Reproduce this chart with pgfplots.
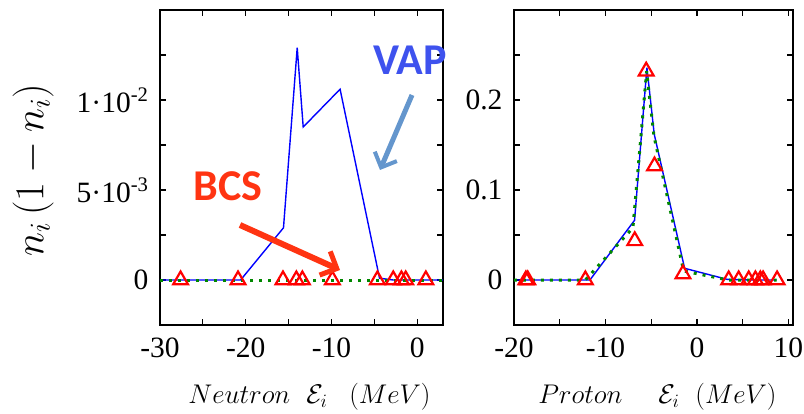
\RequirePackage{fix-cm}
\documentclass[border=0pt]{standalone}
\usepackage[no-math]{fontspec}
\setmainfont{Liberation Serif}
\newfontfamily\calibri{Carlito}
\usepackage{pgfplots}
\pgfplotsset{compat=1.18}
\usetikzlibrary{arrows.meta}

\definecolor{vapblue}{RGB}{62,82,238}
\definecolor{bcsred}{RGB}{255,52,18}
\definecolor{arrowblue}{RGB}{100,150,205}
\definecolor{dotgreen}{RGB}{0,135,0}

% particle label, energy symbol, unit; #2 and #3 are the gaps
\newcommand\elabel[3]{$#1\hspace{#2}\mathcal{E}_i\hspace{#3}(MeV)$}

\pgfplotsset{
  panel/.style={
    scale only axis, anchor=south west,
    height=315bp,
    axis line style={line width=1.3bp},
    every tick/.style={black, line width=1.1bp},
    major tick length=6bp, minor tick length=6bp,
    tick label style={font=\fontsize{29.5bp}{32bp}\selectfont},
    xticklabel style={yshift=-9bp},
    yticklabel style={xshift=-8bp},
    xlabel style={anchor=base, font=\fontsize{27bp}{31bp}\selectfont},
    scaled ticks=false,
    clip=true,
  },
  vap/.style={blue, line width=1.4bp, no marks},
  bcsline/.style={dotgreen, line width=3bp, dash pattern=on 3bp off 6bp, no marks},
  bcsmark/.style={only marks, mark=triangle, mark size=8.5bp, red, mark options={line width=2.2bp}},
}

\begin{document}
\begin{tikzpicture}
\useasboundingbox (-160bp,-89bp) rectangle (644bp,325bp);

% neutrons
\begin{axis}[panel, at={(0bp,0bp)}, width=283bp,
  xmin=-30, xmax=3, ymin=-0.0025, ymax=0.015,
  xtick={-30,-20,-10,0}, xticklabels={-30,-20,-10,0},
  minor xtick={-25,-15,-5},
  ytick={0,0.005,0.01},
  yticklabels={0, 5·10\textsuperscript{-3}, 1·10\textsuperscript{-2}},
  minor ytick={0.0025,0.0075,0.0125},
  ylabel={$n_i\,(1-n_i)$},
  ylabel style={at={(axis description cs:-0.448,0.492)}, anchor=center,
    font=\fontsize{41bp}{45bp}\selectfont},
  xlabel={\elabel{Neutron}{16bp}{22bp}},
  xlabel style={at={(axis description cs:0.528,-0.248)}},
]
\addplot[vap] coordinates {(-31,0) (-27.6,0) (-20.6,0) (-15.6,0.0029) (-14.0,0.0129)
  (-13.3,0.0085) (-9.0,0.0106) (-4.4,0.0001) (-2.8,0) (-1.35,0) (1.0,0) (4,0)};
\addplot[bcsline] coordinates {(-31,0) (4,0)};
\addplot[bcsmark] coordinates {(-27.6,0) (-20.9,0) (-15.66,0) (-14.1,0) (-13.4,0)
  (-9.9,0) (-4.65,0) (-2.8,0) (-1.85,0) (-1.35,0) (1.0,0)};
\end{axis}

% protons
\begin{axis}[panel, at={(354bp,0bp)}, width=279bp,
  xmin=-20, xmax=10.5, ymin=-0.05, ymax=0.3,
  xtick={-20,-10,0,10}, xticklabels={-20,-10,0,10},
  minor xtick={-15,-5,5},
  ytick={0,0.1,0.2}, yticklabels={0,0.1,0.2},
  minor ytick={0.05,0.15,0.25},
  xlabel={\elabel{Proton}{36bp}{16bp}},
  xlabel style={at={(axis description cs:0.514,-0.248)}},
]
\addplot[vap] coordinates {(-21,0) (-18.6,0) (-11.7,0) (-6.82,0.0664) (-5.47,0.236)
  (-4.67,0.162) (-1.35,0.013) (3.3,0.0007) (5.66,0) (8.7,0)};
\addplot[bcsline] coordinates {(-21,0) (-12.2,0) (-7.0,0.058) (-5.5,0.232) (-4.7,0.16)
  (-1.45,0.010) (3.4,0) (8.7,0)};
\addplot[bcsmark] coordinates {(-18.7,0) (-18.5,0) (-12.2,0) (-6.8,0.0435) (-5.55,0.232)
  (-4.64,0.1266) (-1.53,0.0066) (3.47,0) (4.56,0) (5.66,0) (6.39,0) (6.93,0)
  (7.23,0) (8.76,0)};
\end{axis}

% annotations
\node[font=\calibri\bfseries\fontsize{44bp}{48bp}\selectfont, text=vapblue] at (250bp,265bp) {VAP};
\draw[arrowblue, line width=5bp, -{Straight Barb[length=12bp,width=24bp,line width=4bp]}]
  (252bp,230bp) -- (220bp,155bp);
\node[font=\calibri\bfseries\fontsize{44bp}{48bp}\selectfont, text=bcsred] at (68bp,139bp) {BCS};
\draw[bcsred, line width=6bp, -{Straight Barb[length=13bp,width=26bp,line width=5bp]}]
  (80bp,100bp) -- (180bp,55bp);
\end{tikzpicture}
\end{document}
